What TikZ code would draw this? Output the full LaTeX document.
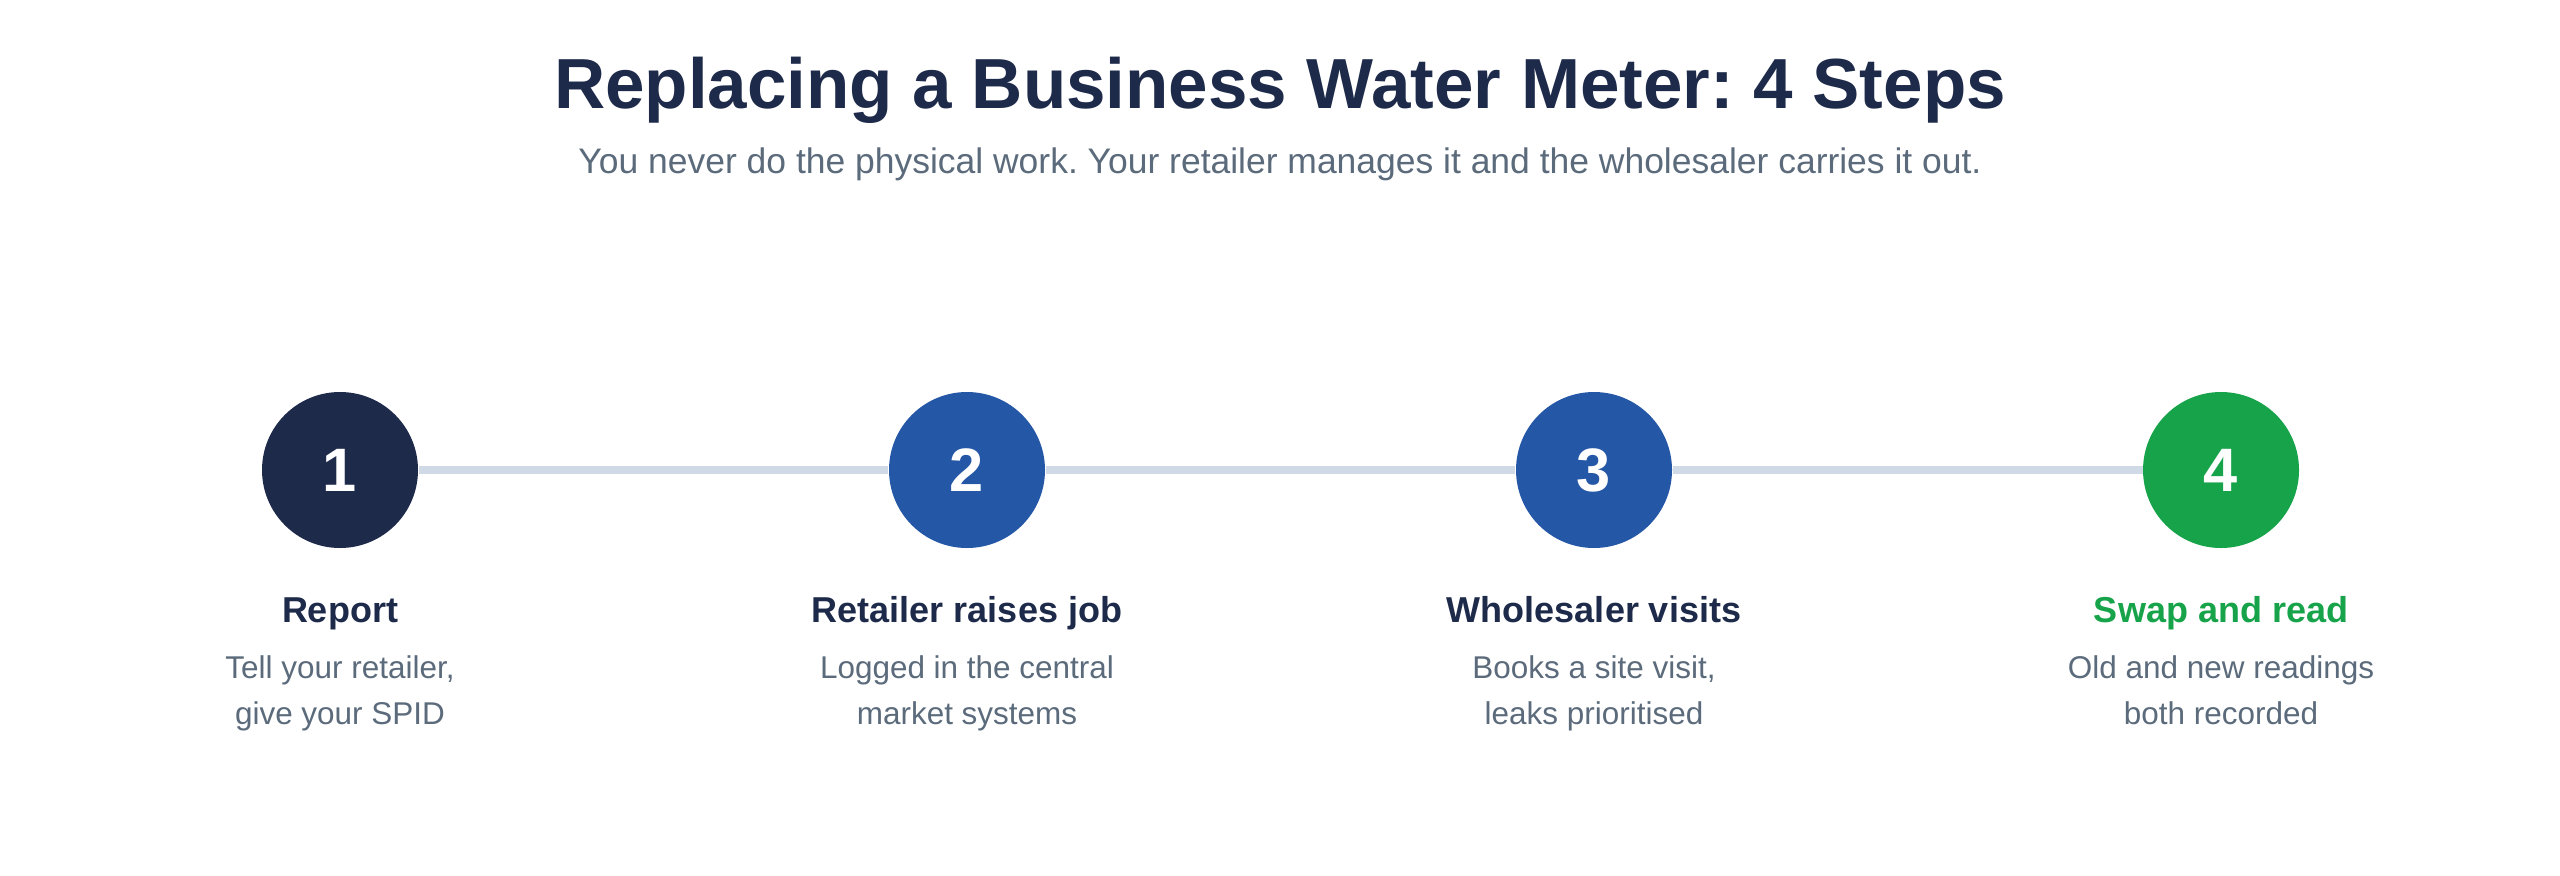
\documentclass[tikz,border=0pt]{standalone}
\usepackage{fontspec}
\setmainfont{Liberation Sans}
\frenchspacing
\definecolor{navy}{HTML}{1E2A4A}
\definecolor{blu}{HTML}{2557A7}
\definecolor{grn}{HTML}{16A34A}
\definecolor{gry}{HTML}{5B6B7B}
\definecolor{lin}{HTML}{CFDAE6}
\begin{document}
\begin{tikzpicture}[x=0.375pt,y=-0.375pt,
  stepc/.style={circle,minimum size=156*0.375pt,inner sep=0,text=white,font=\fontsize{23}{23}\selectfont\bfseries},
  lab/.style={anchor=base,inner sep=0,font=\fontsize{13.5}{16}\selectfont\bfseries,text=navy},
  desc/.style={anchor=base,inner sep=0,font=\fontsize{11.8}{16.9}\selectfont,text=gry,align=center}]
\useasboundingbox[fill=white] (0,0) rectangle (2560,875);
\node[anchor=base,inner sep=0,font=\fontsize{26.6}{30}\selectfont\bfseries,text=navy] (t) at (1280,108) {Replacing a Business Water Meter: 4 Steps};
\node[anchor=base,inner sep=0,font=\fontsize{13.3}{16}\selectfont,text=gry] (s) at (1280,173) {You never do the physical work. Your retailer manages it and the wholesaler carries it out.};
\node[stepc,fill=navy] (c1) at (340,470) {1};
\node[stepc,fill=blu] (c2) at (967,470) {2};
\node[stepc,fill=blu] (c3) at (1594,470) {3};
\node[stepc,fill=grn] (c4) at (2221,470) {4};
\draw[lin,line width=3pt] (c1) -- (c2);
\draw[lin,line width=3pt] (c2) -- (c3);
\draw[lin,line width=3pt] (c3) -- (c4);
\node[lab] (l1) at (340,622) {Report};
\node[lab] (l2) at (967,622) {Retailer raises job};
\node[lab] (l3) at (1594,622) {Wholesaler visits};
\node[lab,text=grn] (l4) at (2221,622) {Swap and read};
\node[desc] (d1) at (340,724) {Tell your retailer,\\give your SPID};
\node[desc] (d2) at (967,724) {Logged in the central\\market systems};
\node[desc] (d3) at (1594,724) {Books a site visit,\\leaks prioritised};
\node[desc] (d4) at (2221,724) {Old and new readings\\both recorded};
\end{tikzpicture}
\end{document}
